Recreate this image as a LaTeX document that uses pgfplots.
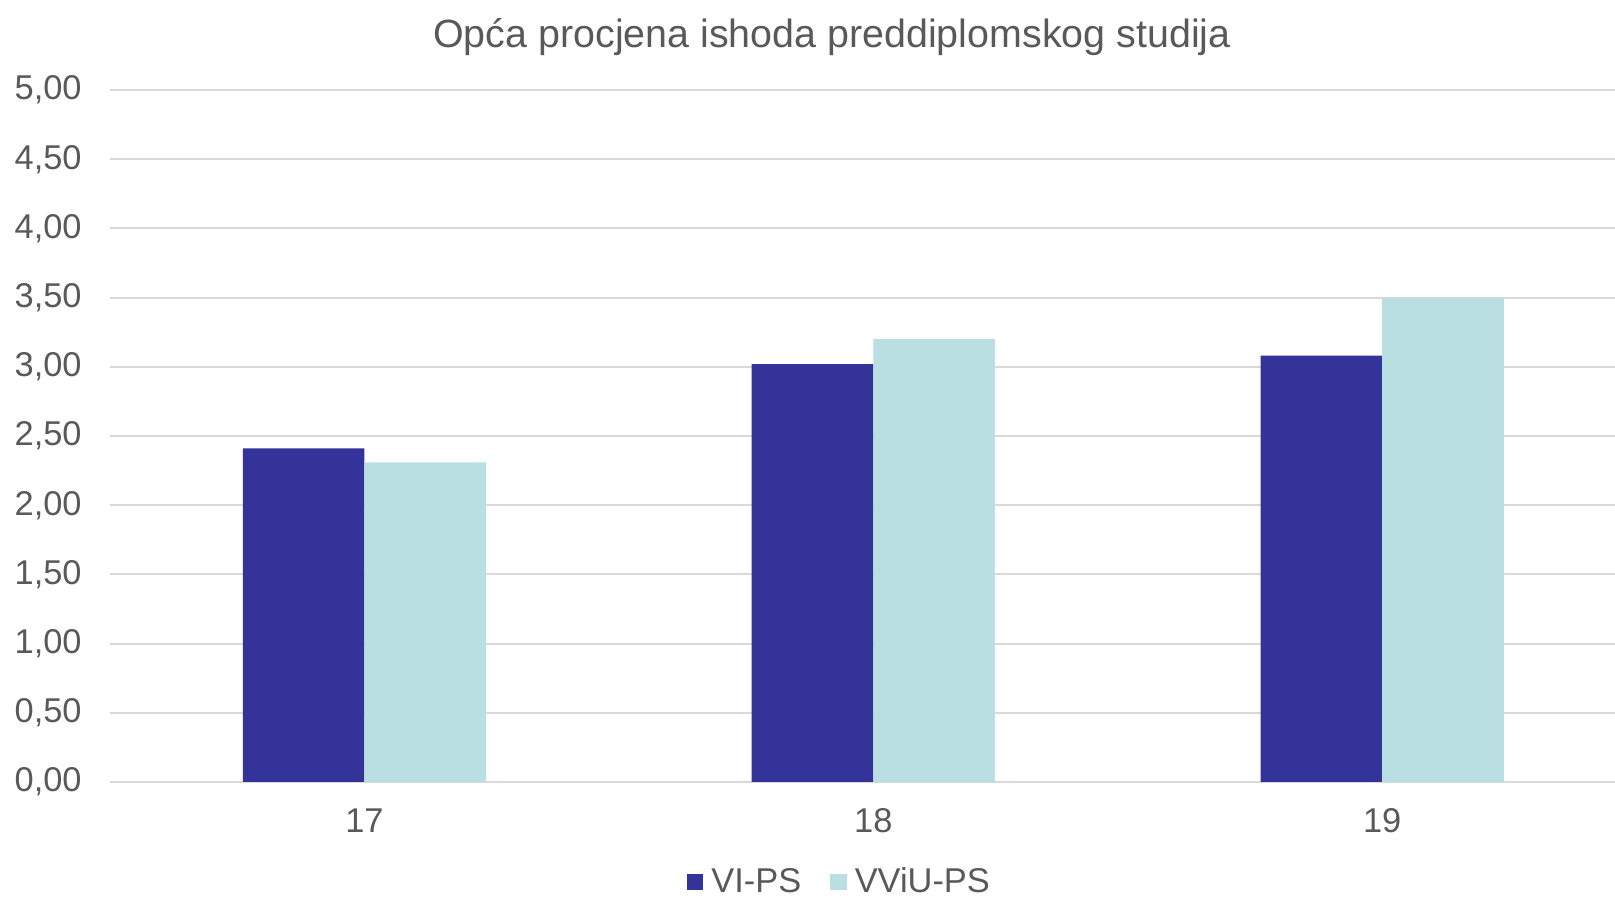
\documentclass[border=0pt]{standalone}
\usepackage{fontspec}
\setmainfont{Liberation Sans}
\usepackage{pgfplots}
\pgfplotsset{compat=1.18}
\definecolor{darkbar}{HTML}{333399}
\definecolor{lightbar}{HTML}{B9DFE2}
\definecolor{txt}{HTML}{595959}
\definecolor{gridc}{HTML}{D9D9D9}
\begin{document}
\begin{tikzpicture}
\begin{axis}[
  scale only axis, width=752.5pt, height=346pt,
  xmin=-0.5, xmax=2.4575, ymin=0, ymax=5,
  ytick={0,0.5,1,1.5,2,2.5,3,3.5,4,4.5,5},
  xtick={0,1,2}, xticklabels={17,18,19},
  axis line style={draw=none},
  major tick length=0pt,
  ymajorgrids, grid style={gridc, line width=1pt},
  /pgf/number format/assume math mode=true,
  yticklabel style={/pgf/number format/fixed, /pgf/number format/fixed zerofill, /pgf/number format/precision=2, /pgf/number format/use comma},
  ticklabel style={font=\fontsize{17.2}{20}\selectfont, text=txt},
  yticklabel style={anchor=east, inner sep=0pt, xshift=-14pt},
  xticklabel style={anchor=center, yshift=-19.5pt},
  title={Opća procjena ishoda preddiplomskog studija},
  title style={at={(0.4797,1)}, anchor=center, yshift=20.5pt, font=\fontsize{19.7}{23}\selectfont, text=txt},
  legend style={at={(0.484,0)}, anchor=center, yshift=-50pt, draw=none, fill=none,
    font=\fontsize{17.2}{20}\selectfont, text=txt, nodes={inner sep=0pt},
    /tikz/every even column/.append style={column sep=14.5pt},
    /tikz/every odd column/.append style={column sep=4pt}},
  legend columns=2,
]
\addplot[ybar, bar width=0.239, bar shift=-0.1195, fill=darkbar, draw=none,
  legend image code/.code={\fill[darkbar] (0pt,-4.1pt) rectangle (8.25pt,4.15pt);}]
  coordinates {(0,2.41) (1,3.02) (2,3.08)};
\addlegendentry{VI-PS}
\addplot[ybar, bar width=0.239, bar shift=0.1195, fill=lightbar, draw=none,
  legend image code/.code={\fill[lightbar] (0pt,-4.1pt) rectangle (8.25pt,4.15pt);}]
  coordinates {(0,2.31) (1,3.20) (2,3.50)};
\addlegendentry{VViU-PS}
\end{axis}
\pgfresetboundingbox
\path (-55pt,-58pt) rectangle (752.5pt,391pt);
\end{tikzpicture}
\end{document}
